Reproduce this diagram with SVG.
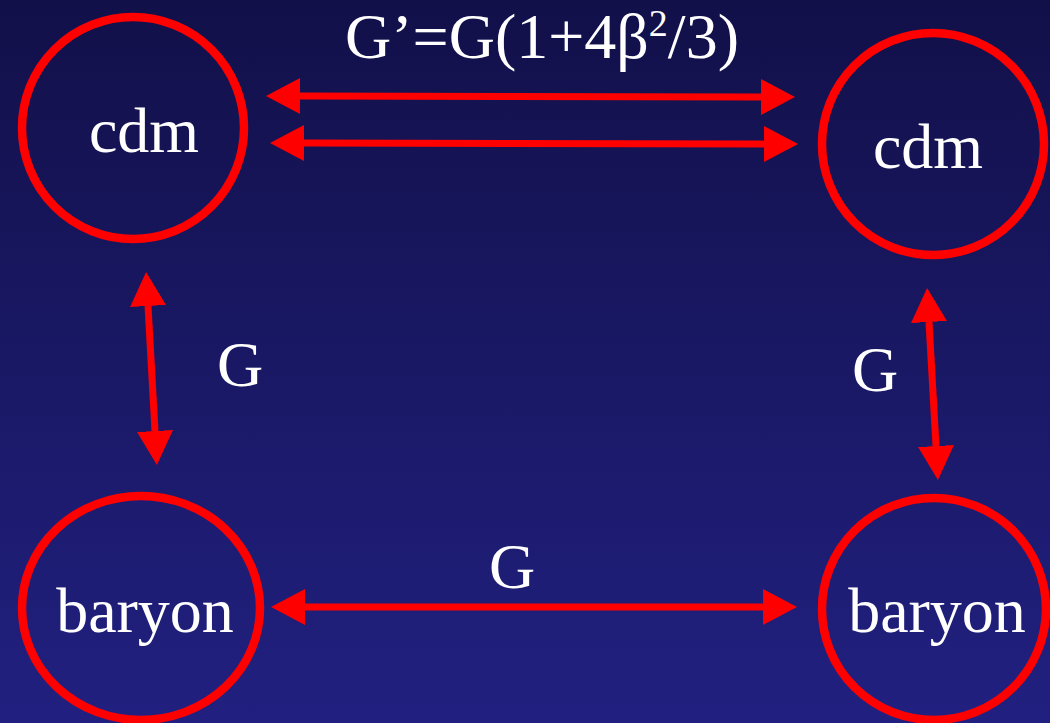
<svg xmlns="http://www.w3.org/2000/svg" width="1050" height="723" viewBox="0 0 1050 723">
<defs>
<linearGradient id="bg" x1="0" y1="0" x2="0" y2="1">
<stop offset="0" stop-color="#121049"/>
<stop offset="1" stop-color="#212080"/>
</linearGradient>
<marker id="ah" viewBox="0 -18 34 36" markerWidth="34" markerHeight="36" refX="0" refY="0" markerUnits="userSpaceOnUse" orient="auto-start-reverse">
<path d="M0,-18 L34,0 L0,18 Z" fill="#ff0000"/>
</marker>
</defs>
<style>
.node{fill:none;stroke:#ff0000;stroke-width:8.5}
.lbl{font-family:"Liberation Serif","Times New Roman",serif;font-size:64px;fill:#ffffff;text-anchor:middle}
.edge{stroke:#ff0000;stroke-width:7;fill:none;marker-start:url(#ah);marker-end:url(#ah)}
</style>
<rect x="0" y="0" width="1050" height="723" fill="url(#bg)"/>
<g id="cdm-left">
<ellipse class="node" cx="133" cy="128" rx="111" ry="111"/>
<text class="lbl" x="144" y="152">cdm</text>
</g>
<g id="cdm-right">
<ellipse class="node" cx="933" cy="144" rx="111" ry="111"/>
<text class="lbl" x="928" y="168">cdm</text>
</g>
<g id="baryon-left">
<ellipse class="node" cx="141" cy="608" rx="119" ry="112"/>
<text class="lbl" x="145" y="632">baryon</text>
</g>
<g id="baryon-right">
<ellipse class="node" cx="934" cy="609" rx="112" ry="111"/>
<text class="lbl" x="937" y="632">baryon</text>
</g>
<g id="connectors">
<line class="edge" x1="300" y1="96" x2="761" y2="97"/>
<line class="edge" x1="304" y1="143" x2="764" y2="144"/>
<line class="edge" x1="148" y1="306" x2="155" y2="431"/>
<line class="edge" x1="929" y1="322" x2="936" y2="446"/>
<line class="edge" x1="305" y1="607" x2="763" y2="607"/>
</g>
<g id="labels">
<text class="lbl" x="542" y="58">G’=G(1+4β<tspan font-size="38" dy="-22">2</tspan><tspan dy="22">/3)</tspan></text>
<text class="lbl" x="240" y="386">G</text>
<text class="lbl" x="875" y="391">G</text>
<text class="lbl" x="512" y="588">G</text>
</g>
</svg>
